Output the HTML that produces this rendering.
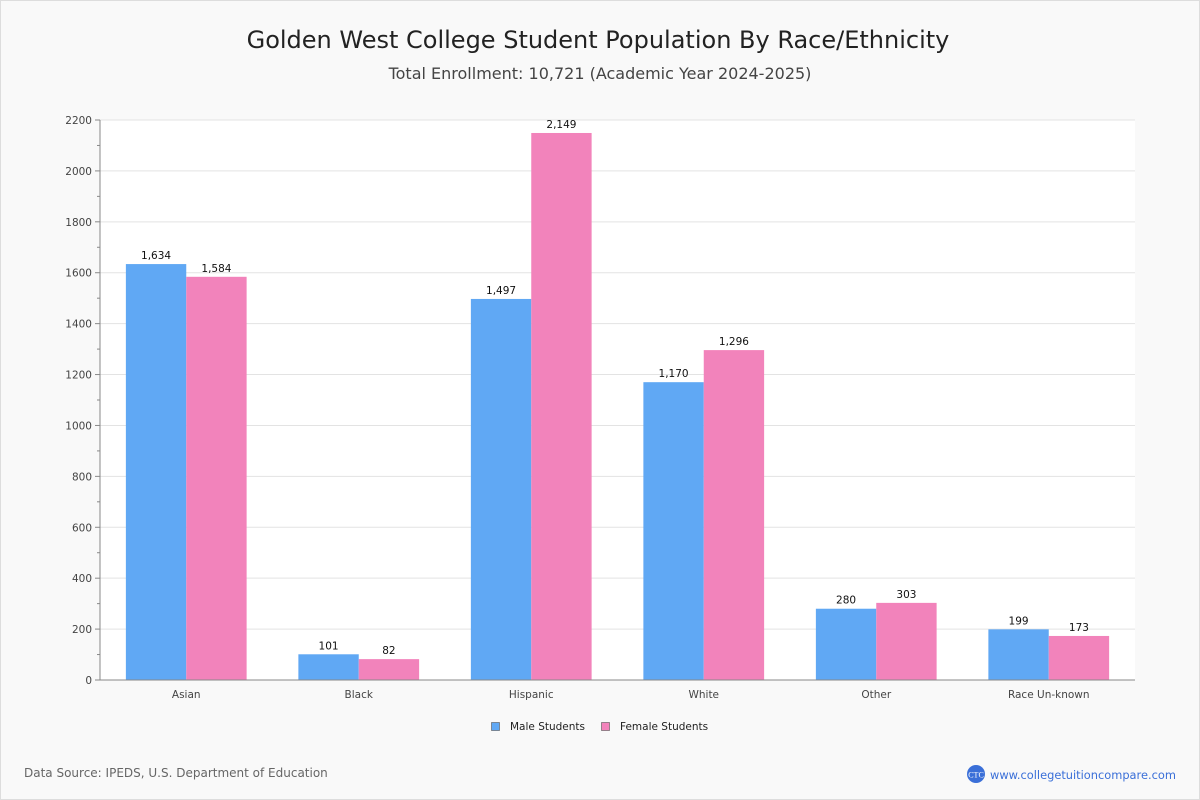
<!DOCTYPE html>
<html><head><meta charset="utf-8"><style>
body{margin:0;background:#fff;}
svg{display:block;font-family:"DejaVu Sans","Liberation Sans",sans-serif;}
</style></head><body>
<svg id="c" width="1200" height="800" xmlns="http://www.w3.org/2000/svg">
<rect x="0.5" y="0.5" width="1199" height="799" fill="#f9f9f9" stroke="#ddd"/>
<text x="598" y="48" text-anchor="middle" font-size="24" fill="#222">Golden West College Student Population By Race/Ethnicity</text>
<text x="600" y="79" text-anchor="middle" font-size="16" fill="#444">Total Enrollment: 10,721 (Academic Year 2024-2025)</text>
<rect x="100" y="120" width="1035" height="560" fill="#fff"/>
<g id="grid"></g><g id="bars"></g><g id="axes"></g>
<g>
<rect x="491.5" y="722.5" width="8" height="8" fill="#60a8f4" stroke="#555" stroke-width="0.6"/>
<text x="510" y="730" font-size="10.5" fill="#222">Male Students</text>
<rect x="601.5" y="722.5" width="8" height="8" fill="#f283bb" stroke="#555" stroke-width="0.6"/>
<text x="620" y="730" font-size="10.5" fill="#222">Female Students</text>
</g>
<text x="24" y="777" font-size="12" fill="#666">Data Source: IPEDS, U.S. Department of Education</text>
<circle cx="976" cy="774" r="9" fill="#3a6fd8"/>
<text x="976" y="777.5" text-anchor="middle" font-size="8" fill="#fff" font-family="Liberation Serif,serif">CTC</text>
<text x="990" y="779" font-size="11.4" fill="#3a6fd8">www.collegetuitioncompare.com</text>
</svg>
<script>
const categories=["Asian","Black","Hispanic","White","Other","Race Un-known"];
const maleValues=[1634,101,1497,1170,280,199];
const femaleValues=[1584,82,2149,1296,303,173];
const yTicks=[0,200,400,600,800,1000,1200,1400,1600,1800,2000,2200];
const NS="http://www.w3.org/2000/svg";
const X0=100,X1=1135,Y0=680,Y1=120,YMAX=2200;
const y=v=>Y0-(v/YMAX)*(Y0-Y1);
const bw=(X1-X0)/categories.length;
const x=i=>X0+bw*i;
function mk(p,t,a){const e=document.createElementNS(NS,t);for(const k in a)e.setAttribute(k,a[k]);p.appendChild(e);return e;}
const grid=document.getElementById('grid'),bars=document.getElementById('bars'),axes=document.getElementById('axes');
yTicks.forEach(v=>{
 const l=mk(grid,'line',{x1:X0,x2:X1,y1:y(v),y2:y(v),stroke:'#e3e3e3'});
 
 
 const t=mk(axes,'line',{x1:X0-5,x2:X0,y1:y(v),y2:y(v),stroke:'#888'});
 
 
 const tx=mk(axes,'text',{x:X0-8,y:y(v)+4,'text-anchor':'end','font-size':10.5,fill:'#444'});
 tx.textContent=v;
 
 
});
for(let v=100;v<YMAX;v+=200){
 const m=mk(axes,'line',{x1:X0-3,x2:X0,y1:y(v),y2:y(v),stroke:'#888'});
 
 
}
const bwid=bw*0.35;
const fmt=v=>v.toLocaleString('en-US');
categories.forEach((c,i)=>{
 const cx=x(i)+bw/2;
 [[maleValues[i],'#60a8f4',cx-bwid,'bar-male'],[femaleValues[i],'#f283bb',cx,'bar-female']].forEach(([v,col,bx,nm])=>{
  const r=mk(bars,'rect',{x:bx,y:y(v),width:bwid,height:Y0-y(v),fill:col});
  
  
  const t=mk(bars,'text',{x:bx+bwid/2,y:y(v)-5,'text-anchor':'middle','font-size':10.5,fill:'#111'});
  t.textContent=fmt(v);
  
  
 });
 const t=mk(axes,'text',{x:cx,y:698,'text-anchor':'middle','font-size':10.5,fill:'#444'});
 t.textContent=c;
 
 
});
const ya=mk(axes,'line',{x1:X0,x2:X0,y1:Y1,y2:Y0,stroke:'#888'});


const xa=mk(axes,'line',{x1:X0,x2:X1,y1:Y0,y2:Y0,stroke:'#888'});


</script>
</body></html>
